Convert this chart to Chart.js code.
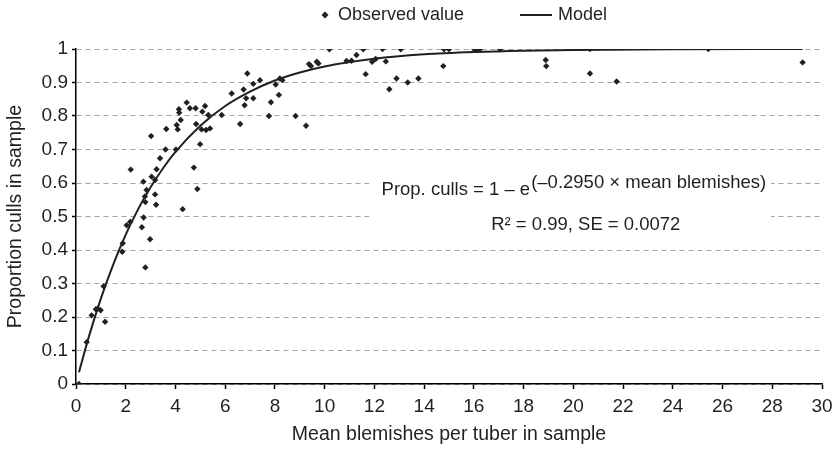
<!DOCTYPE html>
<html>
<head>
<meta charset="utf-8">
<title>Proportion culls vs mean blemishes</title>
<script src="https://cdn.jsdelivr.net/npm/chart.js@4.4.0/dist/chart.umd.min.js"></script>
<style>
    html, body { margin: 0; padding: 0; background: #fff; }
    #wrap { width: 835px; height: 450px; }
</style>
</head>
<body>
<div id="wrap"><canvas id="grafico" width="835" height="450"></canvas></div>
<script>
// Observed values (mean blemishes, proportion culls)
const obsX = [0.12, 0.43, 0.63, 0.80, 0.87, 0.99, 1.11, 1.17, 1.86, 1.88, 2.04, 2.18, 2.2, 2.65, 2.72, 2.79, 2.98, 2.79, 3.22, 4.29,
    2.71, 2.84, 3.04, 3.18, 3.24, 3.18, 2.77, 3.02, 3.38, 3.6, 3.63, 4.02, 4.05, 4.09, 4.21, 4.14, 4.15, 4.45, 4.58, 4.81,
    5.19, 5.08, 5.32, 4.83, 5.05, 5.23, 5.39, 4.99, 4.74, 4.88, 5.86, 6.26, 6.6, 6.78, 6.84, 7.13, 6.74, 6.89, 7.13, 7.4,
    7.76, 7.84, 8.16, 8.03, 8.2, 8.3, 8.83, 9.25, 9.37, 9.45, 9.68, 9.75, 10.19, 10.88, 11.08, 11.28, 11.55, 11.65, 11.91, 12.05,
    12.33, 12.46, 12.6, 12.89, 13.06, 13.34, 13.77, 14.77, 14.8, 15.0, 16.02, 16.14, 16.24, 17.05, 18.89, 18.91, 20.67, 20.67, 21.74, 25.43,
    29.22];
const obsY = [0.0, 0.125, 0.205, 0.223, 0.225, 0.22, 0.292, 0.186, 0.395, 0.42, 0.474, 0.484, 0.64, 0.468, 0.497, 0.348, 0.432, 0.543, 0.535, 0.522,
    0.604, 0.579, 0.619, 0.609, 0.641, 0.566, 0.56, 0.74, 0.674, 0.70, 0.761, 0.70, 0.773, 0.76, 0.788, 0.82, 0.81, 0.84, 0.823, 0.823,
    0.83, 0.813, 0.803, 0.776, 0.76, 0.758, 0.763, 0.716, 0.646, 0.582, 0.803, 0.867, 0.776, 0.832, 0.853, 0.853, 0.879, 0.927, 0.896, 0.907,
    0.80, 0.841, 0.863, 0.894, 0.912, 0.907, 0.80, 0.771, 0.955, 0.949, 0.962, 0.957, 0.999, 0.964, 0.965, 0.982, 0.999, 0.925, 0.962, 0.97,
    1.0, 0.963, 0.88, 0.912, 0.999, 0.90, 0.912, 0.949, 0.999, 0.999, 0.999, 0.997, 0.999, 0.999, 0.967, 0.949, 1.0, 0.927, 0.903, 1.0,
    0.96];

// Model curve
const modelX = [0.12, 0.5, 1, 1.5, 2, 2.5, 3, 3.5, 4, 5, 6, 7, 8, 9, 10, 12, 14, 16, 18, 20, 24, 29.22];
const modelY = [0.035, 0.137, 0.255, 0.357, 0.446, 0.522, 0.587, 0.644, 0.693, 0.771, 0.830, 0.873, 0.906, 0.930, 0.948, 0.971, 0.984, 0.991, 0.995, 0.997, 0.999, 1.0];

const seriesNames = ['Observed value', 'Model'];
const eqMain = 'Prop. culls = 1 \u2013 e';
const eqExp = '(\u20130.2950 \u00d7 mean blemishes)';
const eqFit = 'R\u00b2 = 0.99, SE = 0.0072';

document.addEventListener('DOMContentLoaded', function() {
    const fontFamily = 'Arial, "Liberation Sans", Helvetica, sans-serif';
    const textColor = '#231f20';
    Chart.defaults.font.family = fontFamily;
    Chart.defaults.font.size = 19;
    Chart.defaults.color = textColor;

    // legend drawn by hand: a diamond for the points, a line for the model
    const legendPlugin = {
        id: 'legendaManual',
        afterDraw(chart) {
            const ctx = chart.ctx;
            const ds = chart.data.datasets;
            const y = 15;
            ctx.save();
            ctx.font = '18px ' + fontFamily;
            ctx.fillStyle = textColor;
            ctx.textBaseline = 'middle';
            ctx.textAlign = 'left';
            // diamond
            ctx.beginPath();
            ctx.moveTo(325, y - 3.5);
            ctx.lineTo(328.5, y);
            ctx.lineTo(325, y + 3.5);
            ctx.lineTo(321.5, y);
            ctx.closePath();
            ctx.fill();
            ctx.fillText(ds[0].label, 338, y);
            // line
            ctx.strokeStyle = textColor;
            ctx.lineWidth = 2;
            ctx.beginPath();
            ctx.moveTo(520, y);
            ctx.lineTo(552, y);
            ctx.stroke();
            ctx.fillText(ds[1].label, 558, y);
            ctx.restore();
        }
    };

    // equation box on top of the grid
    const equationPlugin = {
        id: 'equacao',
        beforeDatasetsDraw(chart) {
            const ctx = chart.ctx;
            const sx = chart.scales.x;
            const sy = chart.scales.y;
            ctx.save();
            ctx.fillStyle = '#fff';
            const left = sx.getPixelForValue(11.8);
            const right = sx.getPixelForValue(27.95);
            const top = sy.getPixelForValue(0.67);
            const bottom = sy.getPixelForValue(0.43);
            ctx.fillRect(left, top, right - left, bottom - top);

            ctx.font = '18.5px ' + fontFamily;
            ctx.fillStyle = textColor;
            ctx.textBaseline = 'middle';
            const w1 = ctx.measureText(eqMain).width;
            const w2 = ctx.measureText(eqExp).width;
            const cx = sx.getPixelForValue(20);
            const y1 = sy.getPixelForValue(0.58);
            const x1 = cx - (w1 + w2) / 2;
            ctx.textAlign = 'left';
            ctx.fillText(eqMain, x1, y1);
            ctx.fillText(eqExp, x1 + w1 + 1, y1 - 7);

            ctx.textAlign = 'center';
            ctx.fillText(eqFit, sx.getPixelForValue(20.5), sy.getPixelForValue(0.475));
            ctx.restore();
        }
    };

    new Chart(document.getElementById('grafico'), {
        type: 'scatter',
        data: {
            datasets: [{
                label: seriesNames[0],
                data: obsX.map((x, i) => ({ x: x, y: obsY[i] })),
                pointStyle: 'rectRot',
                pointRadius: 3.2,
                pointBackgroundColor: textColor,
                pointBorderColor: textColor,
                pointBorderWidth: 0,
                order: 1
            }, {
                label: seriesNames[1],
                data: modelX.map((x, i) => ({ x: x, y: modelY[i] })),
                showLine: true,
                borderColor: textColor,
                borderWidth: 2,
                pointRadius: 0,
                cubicInterpolationMode: 'monotone',
                order: 0
            }]
        },
        options: {
            responsive: false,
            animation: false,
            layout: {
                padding: { top: 49, right: 13, left: 0, bottom: 0 }
            },
            plugins: {
                legend: { display: false },
                tooltip: { enabled: false }
            },
            scales: {
                x: {
                    type: 'linear',
                    min: 0,
                    max: 30,
                    ticks: { stepSize: 2, padding: 6, maxRotation: 0 },
                    grid: { drawOnChartArea: false, drawTicks: true, tickLength: 5, tickColor: '#000', tickWidth: 1.5 },
                    border: { color: '#000', width: 1.5 },
                    title: {
                        display: true,
                        text: 'Mean blemishes per tuber in sample',
                        font: { size: 19.5 },
                        padding: { top: 2, bottom: 4 }
                    },
                    afterFit(scale) {
                        scale.height = 66;
                        scale.paddingRight = 0;
                    }
                },
                y: {
                    type: 'linear',
                    min: 0,
                    max: 1,
                    ticks: {
                        stepSize: 0.1,
                        padding: 4,
                        callback: value => Number(value.toFixed(1)).toString()
                    },
                    grid: { color: '#a3a3a3', lineWidth: 1, tickLength: 4, tickColor: '#000', tickWidth: 1.5 },
                    border: { color: '#000', width: 1.5, dash: [5, 4] },
                    title: {
                        display: true,
                        text: 'Proportion culls in sample',
                        font: { size: 19.5 },
                        padding: { top: 4, bottom: 4 }
                    },
                    afterFit(scale) { scale.width = 76; }
                }
            }
        },
        plugins: [equationPlugin, legendPlugin]
    });
});
</script>
</body>
</html>
